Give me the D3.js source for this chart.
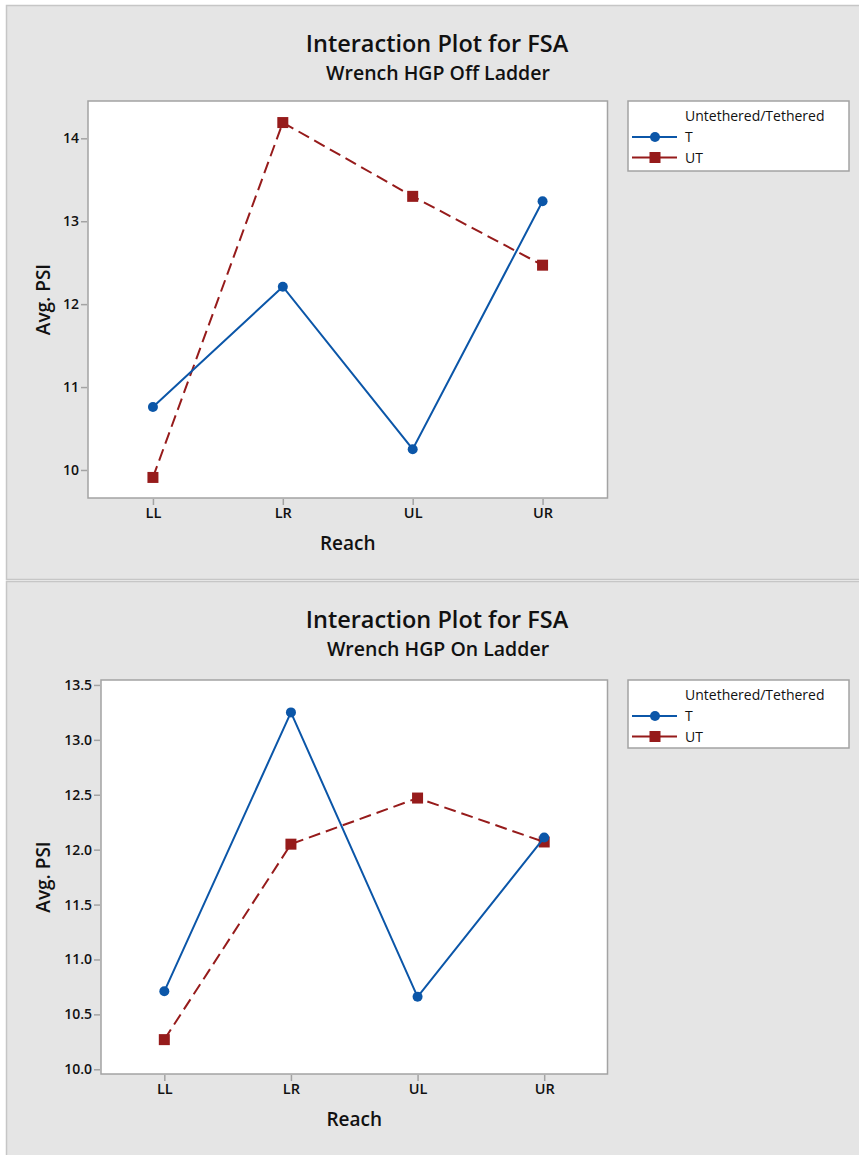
<!DOCTYPE html>
<html>
<head>
<meta charset="utf-8">
<script src="https://cdn.jsdelivr.net/npm/d3@7"></script>
<style>
  body { margin: 0; background: #fff; }
  svg text { font-family: "Open Sans", "Noto Sans", sans-serif; fill: #111; }
</style>
</head>
<body>
<div id="chart"></div>
<script>
// Categories and series values
var reach = ["LL", "LR", "UL", "UR"];
var groups = ["T", "UT"];

var offLadderT = [10.76, 12.21, 10.25, 13.24];
var offLadderUT = [9.91, 14.19, 13.30, 12.47];
var offLadderTicks = [10, 11, 12, 13, 14];

var onLadderT = [10.71, 13.25, 10.66, 12.11];
var onLadderUT = [10.27, 12.05, 12.47, 12.07];
var onLadderTicks = [10.0, 10.5, 11.0, 11.5, 12.0, 12.5, 13.0, 13.5];

var colors = { T: "#0b56a8", UT: "#961b1b" };

var W = 859, H = 1155;

var svg = d3.select("#chart")
    .append("svg")
    .attr("width", W)
    .attr("height", H);

// one panel per plot
function drawPanel(p) {
    var g = svg.append("g");

    // gray panel background
    g.append("rect")
        .attr("x", 6.5).attr("y", p.top + 0.5)
        .attr("width", W).attr("height", p.height)
        .attr("fill", "#e5e5e5")
        .attr("stroke", "#c6c6c6")
        .attr("stroke-width", 1.5);

    // titles
    g.append("text")
        .attr("x", 437).attr("y", p.top + 47)
        .attr("text-anchor", "middle")
        .style("font-size", "23.5px")
        .style("font-weight", "600")
        .text("Interaction Plot for FSA");
    g.append("text")
        .attr("x", 438).attr("y", p.top + 75)
        .attr("text-anchor", "middle")
        .style("font-size", "19.5px")
        .style("font-weight", "600")
        .text(p.subtitle);

    var x = d3.scalePoint()
        .domain(reach)
        .range([p.left, p.right])
        .padding(0.5);

    var y = d3.scaleLinear()
        .domain(p.domain)
        .range([p.bottom, p.plotTop]);

    // white plot area with gray frame
    g.append("rect")
        .attr("x", p.left).attr("y", p.plotTop)
        .attr("width", p.right - p.left).attr("height", p.bottom - p.plotTop)
        .attr("fill", "#fff")
        .attr("stroke", "#a3a3a3")
        .attr("stroke-width", 1.5);

    // y axis
    var yAxis = g.append("g")
        .attr("transform", "translate(" + (p.left - 1) + ",0)")
        .call(d3.axisLeft(y).tickValues(p.ticks).tickSize(6).tickPadding(2)
            .tickFormat(p.format));
    yAxis.select(".domain").remove();
    yAxis.selectAll("line").attr("stroke", "#a3a3a3").attr("stroke-width", 1.5);
    yAxis.selectAll("text")
        .style("font-size", "14px")
        .style("font-weight", "600")
        .attr("fill", "#111");

    // x axis
    var xAxis = g.append("g")
        .attr("transform", "translate(0," + (p.bottom + 1) + ")")
        .call(d3.axisBottom(x).tickSize(6).tickPadding(3));
    xAxis.select(".domain").remove();
    xAxis.selectAll("line").attr("stroke", "#a3a3a3").attr("stroke-width", 1.5);
    xAxis.selectAll("text")
        .style("font-size", "14.5px")
        .style("font-weight", "600")
        .attr("fill", "#111");

    // axis titles
    g.append("text")
        .attr("x", (p.left + p.right) / 2)
        .attr("y", p.bottom + 52)
        .attr("text-anchor", "middle")
        .style("font-size", "19px")
        .style("font-weight", "600")
        .text("Reach");
    g.append("text")
        .attr("transform", "translate(50," + (p.plotTop + p.bottom) / 2 + ") rotate(-90)")
        .attr("text-anchor", "middle")
        .style("font-size", "19px")
        .style("font-weight", "600")
        .text("Avg. PSI");

    var line = d3.line()
        .x(function (d, i) { return x(reach[i]); })
        .y(function (d) { return y(d); });

    // UT series: dashed with squares
    g.append("path")
        .datum(p.ut)
        .attr("d", line)
        .attr("fill", "none")
        .attr("stroke", colors.UT)
        .attr("stroke-width", 2)
        .attr("stroke-dasharray", "12,6");
    g.selectAll(".sq")
        .data(p.ut)
        .enter()
        .append("rect")
        .attr("x", function (d, i) { return x(reach[i]) - 5.5; })
        .attr("y", function (d) { return y(d) - 5.5; })
        .attr("width", 11).attr("height", 11)
        .attr("fill", colors.UT);

    // T series: solid with circles
    g.append("path")
        .datum(p.t)
        .attr("d", line)
        .attr("fill", "none")
        .attr("stroke", colors.T)
        .attr("stroke-width", 2);
    g.selectAll(".dot")
        .data(p.t)
        .enter()
        .append("circle")
        .attr("cx", function (d, i) { return x(reach[i]); })
        .attr("cy", function (d) { return y(d); })
        .attr("r", 5)
        .attr("fill", colors.T);

    // legend
    var lg = g.append("g").attr("transform", "translate(628," + p.plotTop + ")");
    lg.append("rect")
        .attr("width", 221).attr("height", p.legendH)
        .attr("fill", "#fff")
        .attr("stroke", "#a3a3a3")
        .attr("stroke-width", 1.5);
    lg.append("text")
        .attr("x", 57).attr("y", 20)
        .style("font-size", "14px")
        .style("font-weight", "500")
        .text("Untethered/Tethered");

    groups.forEach(function (name, i) {
        var ly = 36 + i * 20.5;
        lg.append("line")
            .attr("x1", 4).attr("x2", 49)
            .attr("y1", ly).attr("y2", ly)
            .attr("stroke", colors[name])
            .attr("stroke-width", 2);
        if (name === "T") {
            lg.append("circle").attr("cx", 27).attr("cy", ly).attr("r", 5)
                .attr("fill", colors[name]);
        } else {
            lg.append("rect").attr("x", 21.5).attr("y", ly - 5.5)
                .attr("width", 11).attr("height", 11)
                .attr("fill", colors[name]);
        }
        lg.append("text")
            .attr("x", 57).attr("y", ly + 5)
            .style("font-size", "14px")
            .style("font-weight", "500")
            .text(name);
    });
}

drawPanel({
    top: 5, height: 574,
    subtitle: "Wrench HGP Off Ladder",
    left: 88, right: 607.5, plotTop: 101, bottom: 498,
    domain: [9.662, 14.45],
    ticks: offLadderTicks,
    format: d3.format("d"),
    t: offLadderT, ut: offLadderUT,
    legendH: 70
});

drawPanel({
    top: 581, height: 580,
    subtitle: "Wrench HGP On Ladder",
    left: 101, right: 607.5, plotTop: 680, bottom: 1074,
    domain: [9.957, 13.545],
    ticks: onLadderTicks,
    format: d3.format(".1f"),
    t: onLadderT, ut: onLadderUT,
    legendH: 68
});
</script>
</body>
</html>
